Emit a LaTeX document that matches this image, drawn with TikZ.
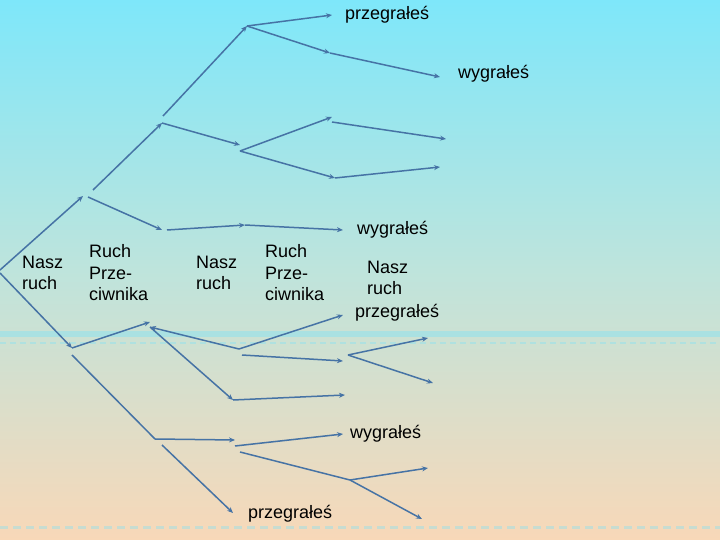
\documentclass[tikz,border=0pt]{standalone}
\usepackage{fontspec}
\setmainfont{Liberation Sans}
\usetikzlibrary{arrows.meta}
\definecolor{lc}{RGB}{70,115,165}
\definecolor{bgtop}{RGB}{126,231,250}
\definecolor{bgmid}{RGB}{190,228,220}
\definecolor{bgbot}{RGB}{248,216,184}
\definecolor{band}{RGB}{130,225,245}
\begin{document}
\begin{tikzpicture}[x=1pt,y=-1pt,
  conn/.style={draw=lc, line width=1.5pt, -{Stealth[length=6pt,width=5pt]}},
  plain/.style={draw=lc, line width=1.5pt},
  lab/.style={font=\fontsize{18}{21.5}\selectfont, inner sep=0pt, align=left, text=black}]
% background
\shade[top color=bgtop, bottom color=bgbot, middle color=bgmid] (0pt,0pt) rectangle (720pt,-540pt);
\useasboundingbox (0pt,0pt) rectangle (720pt,-540pt);
\fill[band, opacity=0.45] (0,331) rectangle (720,337);
\draw[band, opacity=0.4, line width=2pt, dash pattern=on 6pt off 4pt] (0,343) -- (720,343);
\draw[band, opacity=0.4, line width=3pt, dash pattern=on 8pt off 5pt] (0,527) -- (720,527);
% points
\coordinate (R) at (0,270);
\coordinate (R2) at (0,273);
\coordinate (A) at (83,196);
\coordinate (A2) at (93,190);
\coordinate (C) at (162,123);
\coordinate (C2) at (163,116);
\coordinate (T1) at (247,26);
\coordinate (E0) at (332,15);
\coordinate (M1) at (330,53);
\coordinate (E1) at (440,77);
\coordinate (D) at (240,145);
\coordinate (D2) at (240,151);
\coordinate (E2) at (332,117);
\coordinate (F) at (335,178);
\coordinate (E3) at (440,167);
\coordinate (G) at (332,122);
\coordinate (E4) at (446,139);
\coordinate (A3) at (88,197);
\coordinate (H) at (162,230);
\coordinate (H2) at (167,230);
\coordinate (H3) at (245,225);
\coordinate (E5) at (343,230);
\coordinate (B) at (72,348);
\coordinate (B2) at (72,355);
\coordinate (K) at (150,322);
\coordinate (K2) at (150,327);
\coordinate (L) at (239,349);
\coordinate (L2) at (242,355);
\coordinate (N) at (233,400);
\coordinate (E6) at (345,395);
\coordinate (E7) at (343,315);
\coordinate (E8) at (343,361);
\coordinate (P) at (348,355);
\coordinate (Q1) at (428,338);
\coordinate (Q2) at (433,383);
\coordinate (S) at (155,439);
\coordinate (S1) at (235,440);
\coordinate (S2) at (162,445);
\coordinate (S3) at (233,513);
\coordinate (S4) at (235,446);
\coordinate (E9) at (343,434);
\coordinate (S5) at (240,452);
\coordinate (V) at (350,480);
\coordinate (V1) at (428,468);
\coordinate (V2) at (422,519);
% connectors
\draw[conn] (R) -- (A);
\draw[conn] (R2) -- (B);
\draw[conn] (A2) -- (C);
\draw[conn] (C2) -- (T1);
\draw[conn] (T1) -- (E0);
\draw[conn] (T1) -- (M1);
\draw[conn] (M1) -- (E1);
\draw[conn] (C) -- (D);
\draw[conn] (D2) -- (E2);
\draw[conn] (D2) -- (F);
\draw[conn] (F) -- (E3);
\draw[conn] (G) -- (E4);
\draw[conn] (A3) -- (H);
\draw[conn] (H2) -- (H3);
\draw[conn] (H3) -- (E5);
\draw[conn] (B) -- (K);
\draw[conn] (L) -- (K2);
\draw[conn] (K2) -- (N);
\draw[conn] (N) -- (E6);
\draw[conn] (L) -- (E7);
\draw[conn] (L2) -- (E8);
\draw[conn] (P) -- (Q1);
\draw[conn] (P) -- (Q2);
\draw[plain] (B2) -- (S);
\draw[conn] (S) -- (S1);
\draw[conn] (S2) -- (S3);
\draw[conn] (S4) -- (E9);
\draw[plain] (S5) -- (V);
\draw[conn] (V) -- (V1);
\draw[conn] (V) -- (V2);
% labels
\node[lab, anchor=base west] (l1) at (345,20) {przegrałeś};
\node[lab, anchor=base west] (l2) at (458,79) {wygrałeś};
\node[lab, anchor=base west] (l3) at (357,234) {wygrałeś};
\node[lab, anchor=north west] (n1) at (22,255.5) {Nasz\\ruch};
\node[lab, anchor=north west] (r1) at (89,244.3) {Ruch\\Prze-\\ciwnika};
\node[lab, anchor=north west] (n2) at (196,255.5) {Nasz\\ruch};
\node[lab, anchor=north west] (r2) at (265,244.3) {Ruch\\Prze-\\ciwnika};
\node[lab, anchor=north west] (n3) at (367,260.5) {Nasz\\ruch};
\node[lab, anchor=base west] (l4) at (355,317) {przegrałeś};
\node[lab, anchor=base west] (l5) at (350,438) {wygrałeś};
\node[lab, anchor=base west] (l6) at (248,518) {przegrałeś};
\end{tikzpicture}
\end{document}
